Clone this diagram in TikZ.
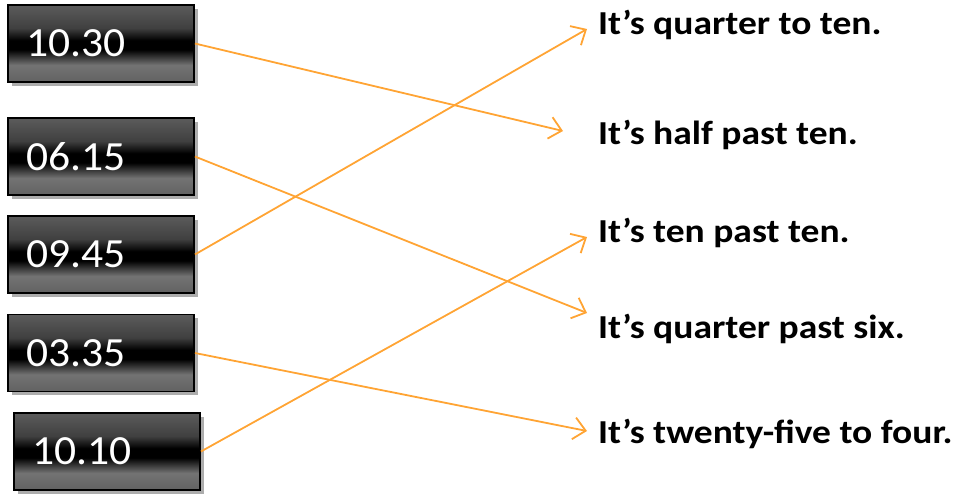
\documentclass[tikz,border=0pt]{standalone}
\usepackage{fontspec}
\setmainfont{Carlito}
\newfontfamily\answerfont[FakeStretch=1.12]{Carlito}
\newfontfamily\digitfont[FakeStretch=1.05]{Carlito}
\usetikzlibrary{arrows.meta,shadows}
\definecolor{arrorange}{RGB}{255,164,52}
\definecolor{gtop}{RGB}{110,110,110}
\definecolor{gbot}{RGB}{90,90,90}
\pgfdeclareverticalshading{boxshade}{100bp}{color(0bp)=(gbot); color(20bp)=(gbot); color(36bp)=(black!55); color(46bp)=(black); color(52bp)=(black); color(60bp)=(black!75); color(78bp)=(gtop!88!black); color(100bp)=(gtop)}
\tikzset{
  timebox/.style={rectangle, draw=black, line width=1.8pt, shading=boxshade,
    minimum width=186pt, minimum height=77pt, text width=150pt, inner xsep=18pt,
    align=left, text=white, font=\digitfont\fontsize{41.5}{44}\selectfont,
    drop shadow={shadow xshift=3.5pt, shadow yshift=-3.5pt, fill=black!40, opacity=0.8}},
  answer/.style={anchor=base west, inner sep=0pt, font=\answerfont\fontsize{33.5}{36}\selectfont\bfseries},
  matchline/.style={draw=arrorange, line width=1.8pt, -{Straight Barb[length=12pt,width=22pt,line width=1.8pt]}}
}
\begin{document}
\begin{tikzpicture}[x=1pt,y=-1pt]
\useasboundingbox (0,0) rectangle (961,498);
\node[timebox] (b1) at (101,43.5) {10.30};
\node[timebox] (b2) at (101,156.5) {06.15};
\node[timebox] (b3) at (101,254.5) {09.45};
\node[timebox] (b4) at (101,353) {03.35};
\node[timebox] (b5) at (107,451.5) {10.10};

\node[answer] (a1) at (598,34) {It’s quarter to ten.};
\node[answer] (a2) at (598,144) {It’s half past ten.};
\node[answer] (a3) at (598,242) {It’s ten past ten.};
\node[answer] (a4) at (598,338) {It’s quarter past six.};
\node[answer] (a5) at (598,443) {It’s twenty-five to four.};

\coordinate (t1) at (587,29);
\coordinate (t2) at (563,131);
\coordinate (t3) at (587,237);
\coordinate (t4) at (587,313);
\coordinate (t5) at (587,431);

\draw[matchline] (b1.east) -- (t2);
\draw[matchline] (b2.east) -- (t4);
\draw[matchline] (b3.east) -- (t1);
\draw[matchline] (b4.east) -- (t5);
\draw[matchline] (b5.east) -- (t3);
\end{tikzpicture}
\end{document}
